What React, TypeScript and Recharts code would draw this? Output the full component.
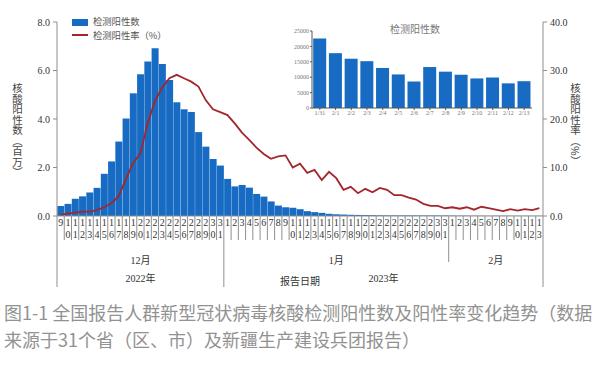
import React from "react";
import { ComposedChart, BarChart, Bar, Line, XAxis, YAxis } from "recharts";

// report dates, split by month
const decDates = ["12/9", "12/10", "12/11", "12/12", "12/13", "12/14", "12/15", "12/16", "12/17", "12/18", "12/19", "12/20", "12/21", "12/22", "12/23", "12/24", "12/25", "12/26", "12/27", "12/28", "12/29", "12/30", "12/31"];
const janDates = ["1/1", "1/2", "1/3", "1/4", "1/5", "1/6", "1/7", "1/8", "1/9", "1/10", "1/11", "1/12", "1/13", "1/14", "1/15", "1/16", "1/17", "1/18", "1/19", "1/20", "1/21", "1/22", "1/23", "1/24", "1/25", "1/26", "1/27", "1/28", "1/29", "1/30", "1/31"];
const febDates = ["2/1", "2/2", "2/3", "2/4", "2/5", "2/6", "2/7", "2/8", "2/9", "2/10", "2/11", "2/12", "2/13"];

// positives, millions
const decPositive = [0.41, 0.5, 0.71, 0.81, 0.97, 1.16, 1.74, 2.25, 3.07, 4.02, 5.06, 5.85, 6.37, 6.92, 6.27, 5.61, 4.69, 4.4, 4.29, 3.46, 2.86, 2.35, 2.08];
const janPositive = [1.53, 1.22, 1.28, 1.17, 0.91, 0.8, 0.6, 0.43, 0.36, 0.34, 0.28, 0.2, 0.16, 0.13, 0.09, 0.07, 0.06, 0.05, 0.045, 0.04, 0.035, 0.03, 0.028, 0.027, 0.025, 0.026, 0.025, 0.024, 0.023, 0.023, 0.0226];
const febPositive = [0.0178, 0.016, 0.0152, 0.013, 0.0109, 0.0086, 0.0133, 0.0118, 0.0108, 0.0096, 0.0099, 0.008, 0.0087];

// positive rate, %
const decRate = [0.3, 0.5, 0.7, 0.9, 0.9, 1.2, 1.8, 2.6, 4.1, 7.6, 11.0, 12.9, 19.1, 23.7, 26.5, 28.4, 29.1, 28.4, 27.7, 26.7, 23.9, 22.0, 21.4];
const janRate = [20.8, 19.1, 17.2, 15.7, 14.1, 12.8, 11.8, 12.3, 12.5, 10.0, 10.8, 8.9, 9.5, 7.4, 9.1, 7.8, 5.4, 6.0, 4.7, 5.6, 4.9, 5.8, 5.4, 4.3, 4.3, 3.8, 3.4, 2.5, 2.1, 2.1, 1.6];
const febRate = [1.8, 1.5, 1.8, 1.3, 1.9, 1.6, 1.3, 1.0, 1.4, 1.1, 1.4, 1.2, 1.6];

const leftTicks = [0, 2, 4, 6, 8];
const rightTicks = [0, 10, 20, 30, 40];

// inset: 1/31 - 2/13
const insetDates = ["1/31", "2/1", "2/2", "2/3", "2/4", "2/5", "2/6", "2/7", "2/8", "2/9", "2/10", "2/11", "2/12", "2/13"];
const insetPositive = [22600, 17800, 16000, 15200, 13000, 10900, 8600, 13300, 11800, 10800, 9600, 9900, 8000, 8700];
const insetTicks = [0, 5000, 10000, 15000, 20000, 25000];

const dates = [...decDates, ...janDates, ...febDates];
const positives = [...decPositive, ...janPositive, ...febPositive];
const rates = [...decRate, ...janRate, ...febRate];
const mainData = dates.map((d, i) => ({ date: d, positive: positives[i], rate: rates[i] }));
const insetData = insetDates.map((d, i) => ({ date: d, positive: insetPositive[i] }));

const SERIF = '"Liberation Serif", "Times New Roman", "Noto Sans CJK SC", serif';
const CJK = '"Noto Sans CJK SC", "Noto Sans", sans-serif';
const BLUE = "#176bc2";
const RED = "#a3262c";
const AXIS = "#8f8f8f";
const TEXT = "#333";

function DayTick(props: any) {
  const { x, y, payload } = props;
  const value: string = payload.value;
  const half: number = payload.offset || 3.6;
  const left = x - half;
  const digits = value.split("/")[1].split("");

  // longer separators at year / month boundaries
  let drop = 24;
  if (value === dates[0] || value === janDates[0]) drop = 71;
  else if (value === febDates[0]) drop = 46;

  const label = (tx: number, ty: number, s: string, key: string) => (
    <text key={key} x={tx} y={ty} textAnchor="middle" fontSize={10} fill={TEXT} fontFamily={SERIF}>
      {s}
    </text>
  );

  const extra: React.ReactNode[] = [];
  if (value === decDates[Math.floor(decDates.length / 2)]) {
    extra.push(label(x, y + 48, "12月", "m"));
    extra.push(label(x, y + 66, "2022年", "yr"));
  }
  if (value === janDates[Math.floor(janDates.length / 2)]) extra.push(label(x, y + 48, "1月", "m"));
  if (value === febDates[Math.floor(febDates.length / 2)]) extra.push(label(x, y + 48, "2月", "m"));
  if (value === janDates[0]) {
    extra.push(label(left + (janDates.length + febDates.length) * half, y + 66, "2023年", "yr"));
  }
  if (value === dates[0]) {
    extra.push(label(left + dates.length * half, y + 69, "报告日期", "t"));
  }
  if (value === dates[dates.length - 1]) {
    extra.push(<line key="r" x1={x + half} x2={x + half} y1={y} y2={y + 71} stroke={AXIS} strokeWidth={1} />);
  }

  return (
    <g>
      <line x1={left} x2={left} y1={y} y2={y + drop} stroke={AXIS} strokeWidth={1} />
      {digits.map((d, i) => (
        <text key={i} x={x} y={y + 9.5 + i * 12.5} textAnchor="middle" fontSize={10} fill={TEXT} fontFamily={SERIF}>
          {d}
        </text>
      ))}
      {extra}
    </g>
  );
}

export default function App() {
  return (
    <div style={{ position: "absolute", left: 0, top: 0, width: 600, height: 371, background: "#fff", fontFamily: CJK }}>
      <ComposedChart width={600} height={300} data={mainData} margin={{ top: 22, right: 12, bottom: 54, left: 12 }} barCategoryGap={0.3}>
        <XAxis
          dataKey="date"
          interval={0}
          height={30}
          tickLine={false}
          tickSize={0}
          tickMargin={0}
          axisLine={{ stroke: AXIS }}
          tick={(p: any) => <DayTick {...p} />}
        />
        <YAxis
          yAxisId="n"
          domain={[0, 8]}
          ticks={leftTicks}
          width={45}
          tickSize={4}
          tickMargin={3}
          axisLine={{ stroke: AXIS }}
          tickLine={{ stroke: AXIS }}
          tick={{ fontSize: 10, fill: TEXT, fontFamily: SERIF }}
          tickFormatter={(v: number) => v.toFixed(1)}
        />
        <YAxis
          yAxisId="r"
          orientation="right"
          domain={[0, 40]}
          ticks={rightTicks}
          width={45}
          tickSize={4}
          tickMargin={3}
          axisLine={{ stroke: AXIS }}
          tickLine={{ stroke: AXIS }}
          tick={{ fontSize: 10, fill: TEXT, fontFamily: SERIF }}
          tickFormatter={(v: number) => v.toFixed(1)}
        />
        <Bar yAxisId="n" dataKey="positive" fill={BLUE} isAnimationActive={false} />
        <Line yAxisId="r" dataKey="rate" type="linear" stroke={RED} strokeWidth={1.8} dot={false} isAnimationActive={false} />
      </ComposedChart>

      {/* legend */}
      <div style={{ position: "absolute", left: 72, top: 19, width: 16, height: 7, background: BLUE }} />
      <div style={{ position: "absolute", left: 93, top: 16, fontSize: 9.3, lineHeight: "11px", color: "#555", whiteSpace: "nowrap" }}>检测阳性数</div>
      <div style={{ position: "absolute", left: 72, top: 34, width: 16, height: 2, background: RED }} />
      <div style={{ position: "absolute", left: 93, top: 29.5, fontSize: 9.3, lineHeight: "11px", color: "#555", whiteSpace: "nowrap" }}>检测阳性率（%）</div>

      {/* axis titles */}
      <div style={{ position: "absolute", left: 11, top: 83, writingMode: "vertical-rl", fontSize: 10.5, lineHeight: "12px", color: "#444" }}>核酸阳性数（百万）</div>
      <div style={{ position: "absolute", left: 569, top: 83, writingMode: "vertical-rl", fontSize: 10.5, lineHeight: "12px", color: "#444" }}>核酸阳性率（%）</div>

      {/* inset */}
      <div style={{ position: "absolute", left: 280, top: 20 }}>
        <BarChart width={260} height={105} data={insetData} margin={{ top: 11, right: 8, bottom: 5, left: 8 }} barCategoryGap={1.2}>
          <XAxis
            dataKey="date"
            interval={0}
            height={12}
            tickSize={2}
            tickMargin={1}
            axisLine={{ stroke: "#555" }}
            tickLine={{ stroke: "#555" }}
            tick={{ fontSize: 6, fill: "#777", fontFamily: SERIF }}
          />
          <YAxis
            domain={[0, 25000]}
            ticks={insetTicks}
            width={24}
            tickSize={2}
            tickMargin={1}
            axisLine={{ stroke: "#555" }}
            tickLine={{ stroke: "#555" }}
            tick={{ fontSize: 6, fill: "#777", fontFamily: SERIF }}
          />
          <Bar dataKey="positive" fill={BLUE} isAnimationActive={false} />
        </BarChart>
      </div>
      <div style={{ position: "absolute", left: 365, top: 22, width: 100, textAlign: "center", fontSize: 10, lineHeight: "13px", color: "#777" }}>检测阳性数</div>

      {/* caption */}
      <div style={{ position: "absolute", left: 4, top: 299, fontSize: 18, lineHeight: "27px", color: "#929292", whiteSpace: "nowrap" }}>
        图1-1 全国报告人群新型冠状病毒核酸检测阳性数及阳性率变化趋势（数据
      </div>
      <div style={{ position: "absolute", left: 4, top: 326, fontSize: 18, lineHeight: "27px", color: "#929292", whiteSpace: "nowrap" }}>
        来源于31个省（区、市）及新疆生产建设兵团报告）
      </div>
    </div>
  );
}
